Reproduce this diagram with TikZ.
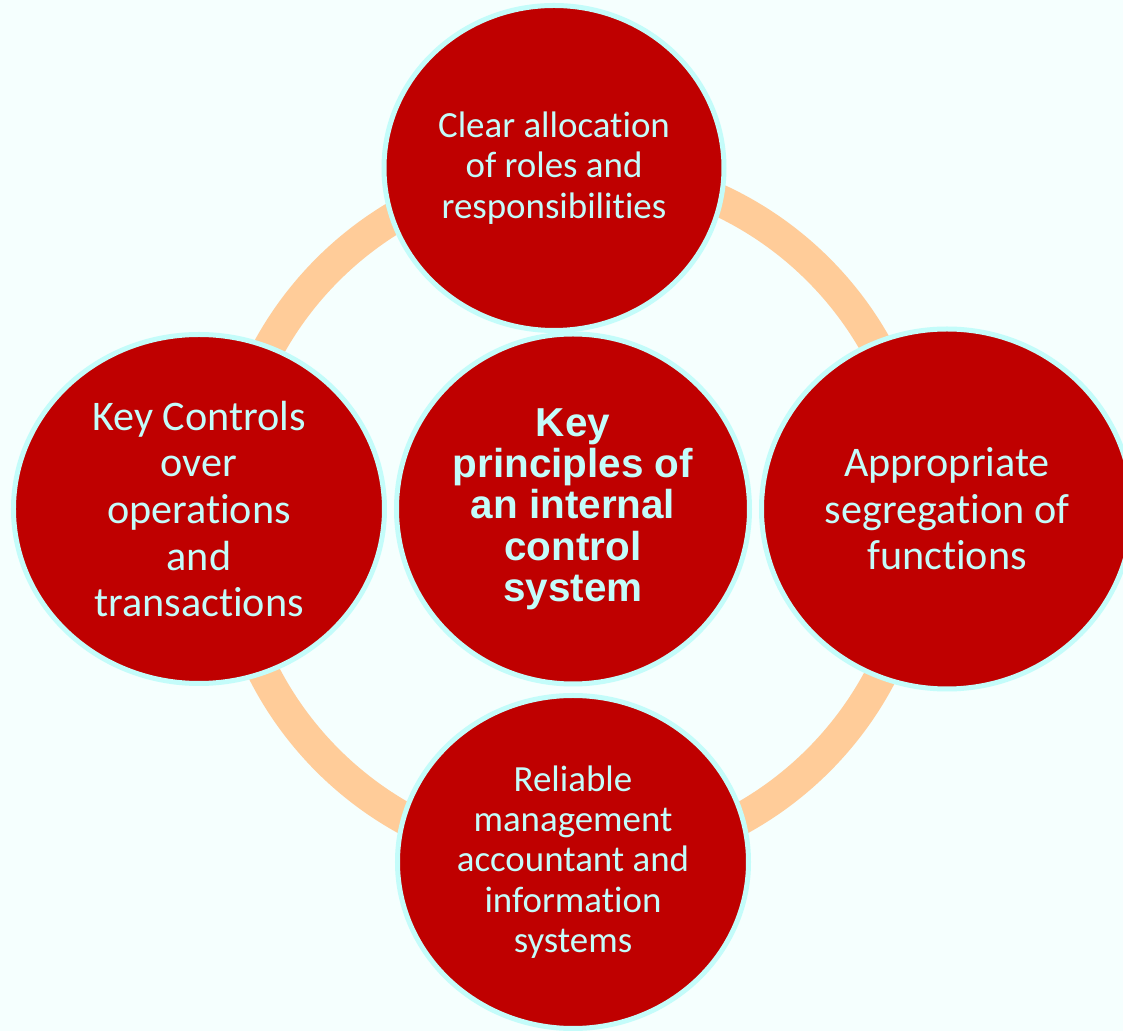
\documentclass[tikz,border=0pt]{standalone}
\usepackage{fontspec}
\setmainfont{Carlito}[Ligatures={NoCommon,NoRare}]
\newfontfamily\hubfont{Liberation Sans}
\usetikzlibrary{shapes.geometric}

\definecolor{bgaqua}{HTML}{F5FFFE}
\definecolor{paleaqua}{HTML}{C4FCFA}
\definecolor{boxred}{HTML}{BF0000}
\definecolor{peach}{HTML}{FFCC99}

\begin{document}
	\begin{tikzpicture}[
			principle/.style={ellipse, draw=paleaqua, line width=1mm, fill=boxred, text=paleaqua, align=center, inner sep=0pt},
			wide/.style={font=\fontsize{24}{26.5}\selectfont},
			narrow/.style={font=\fontsize{21}{23}\selectfont},
			hub/.style={font=\hubfont\bfseries\fontsize{23}{23.5}\selectfont}]
		\path[use as bounding box, fill=bgaqua] (-11.46,-10.44) rectangle (11.0,10.18);
		% ring behind the circles
		\coordinate (ringc) at (0,-0.12);
		\draw[peach, line width=6.4mm] (ringc) circle (6.94);
		\begin{scope}[every node/.style={principle}]
			\node [hub, minimum width=7.06cm, minimum height=7cm] (core) at (0,0) {Key\\principles of\\an internal\\control\\system};
			\node [narrow, minimum width=6.8cm, minimum height=6.5cm] (roles) at (-0.38,6.82) {Clear allocation\\of roles and\\responsibilities};
			\node [wide, minimum width=7.42cm, minimum height=6.98cm] (controls) at (-7.48,0) {Key Controls\\over\\operations\\and\\transactions};
			\node [wide, minimum width=7.42cm, minimum height=7.2cm] (segregation) at (7.48,0) {Appropriate\\segregation of\\functions};
			\node [narrow, minimum width=7.02cm, minimum height=6.66cm] (reporting) at (0,-7.06) {Reliable\\management\\accountant and\\information\\systems};
		\end{scope}
	\end{tikzpicture}
\end{document}
